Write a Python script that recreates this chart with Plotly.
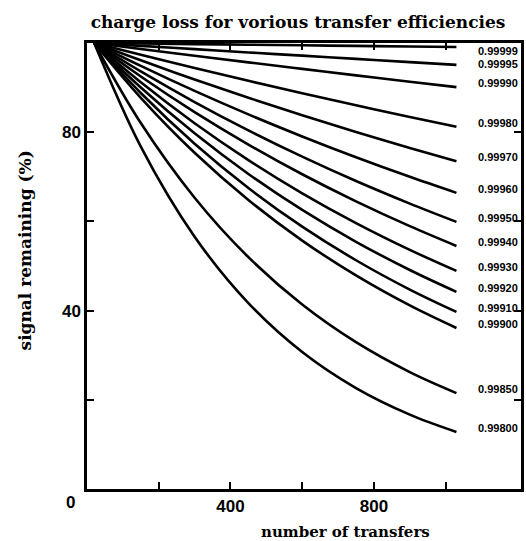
import plotly.graph_objects as go

# number of transfers at which values were read
transfers = [20, 150, 300, 450, 600, 750, 900, 1030]

efficiency_labels = ["0.99999", "0.99995", "0.99990", "0.99980", "0.99970", "0.99960",
                     "0.99950", "0.99940", "0.99930", "0.99920", "0.99910", "0.99900",
                     "0.99850", "0.99800"]

# signal remaining (%) for each curve
s_99999 = [100, 99.88, 99.75, 99.62, 99.48, 99.35, 99.22, 99.1]
s_99995 = [100, 99.36, 98.62, 97.88, 97.16, 96.43, 95.72, 95.1]
s_99990 = [100, 98.67, 97.15, 95.66, 94.19, 92.74, 91.32, 90.1]
s_99980 = [100, 97.36, 94.39, 91.52, 88.73, 86.03, 83.41, 81.2]
s_99970 = [100, 96.12, 91.82, 87.72, 83.79, 80.05, 76.47, 73.5]
s_99960 = [100, 94.87, 89.27, 84.00, 79.05, 74.38, 69.99, 66.4]
s_99950 = [100, 93.62, 86.76, 80.40, 74.51, 69.05, 63.99, 59.9]
s_99940 = [100, 92.49, 84.51, 77.23, 70.57, 64.49, 58.93, 54.5]
s_99930 = [100, 91.20, 82.01, 73.75, 66.31, 59.63, 53.62, 48.9]
s_99920 = [100, 90.03, 79.75, 70.64, 62.57, 55.43, 49.10, 44.2]
s_99910 = [100, 88.79, 77.41, 67.49, 58.83, 51.29, 44.71, 39.7]
s_99900 = [100, 87.71, 75.39, 64.81, 55.70, 47.89, 41.16, 36.1]
s_99850 = [100, 82.05, 65.31, 51.98, 41.36, 32.92, 26.20, 21.5]
s_99800 = [100, 76.76, 56.56, 41.68, 30.71, 22.63, 16.68, 12.8]

series = [s_99999, s_99995, s_99990, s_99980, s_99970, s_99960, s_99950,
          s_99940, s_99930, s_99920, s_99910, s_99900, s_99850, s_99800]

x_tickvals = [200, 400, 600, 800, 1000]
x_ticktext = ["", "400", "", "800", ""]
y_tickvals = [20, 40, 60, 80]
y_ticktext = ["", "40", "", "80"]

NUM_FONT = dict(family="Liberation Sans", size=17, color="black", weight="bold")
LABEL_FONT = dict(family="Liberation Sans", size=11, color="black", weight="bold")

fig = go.Figure()
for i, (lab, vals) in enumerate(zip(efficiency_labels, series)):
    fig.add_trace(go.Scatter(x=transfers, y=vals, mode="lines",
                             line=dict(color="black", width=2.6, shape="spline"),
                             name=lab, showlegend=False, hoverinfo="skip"))
    # label sits just above the end of its curve (kept clear of the top frame)
    ly = vals[-1] + 0.9
    if i == 0:
        ly = 98.1
    elif i == 1:
        ly = vals[-1] + 0.1
    fig.add_annotation(x=1207, y=ly, text=lab, showarrow=False,
                       xanchor="right", yanchor="middle", font=LABEL_FONT)

axis_common = dict(showline=True, linecolor="black", linewidth=2.5, mirror="ticks",
                   ticks="inside", ticklen=7, tickwidth=2, tickcolor="black",
                   showgrid=False, zeroline=False, tickfont=NUM_FONT)

fig.update_xaxes(range=[0, 1210], tickvals=x_tickvals, ticktext=x_ticktext, **axis_common)
fig.update_yaxes(range=[0, 100], tickvals=y_tickvals, ticktext=y_ticktext, **axis_common)

fig.add_annotation(xref="paper", yref="paper", x=-0.039, y=-0.031, text="0",
                   showarrow=False, xanchor="center", yanchor="middle", font=NUM_FONT)
fig.add_annotation(xref="paper", yref="paper", x=(347 - 87) / 437, y=-(532 - 489) / 446,
                   text="number of transfers", showarrow=False,
                   xanchor="center", yanchor="middle",
                   font=dict(family="DejaVu Serif", size=15, color="black", weight="bold"))
fig.add_annotation(xref="paper", yref="paper", x=(25 - 87) / 437, y=(489 - 250) / 446,
                   text="signal remaining (%)", textangle=-90, showarrow=False,
                   xanchor="center", yanchor="middle",
                   font=dict(family="DejaVu Serif", size=17, color="black", weight="bold"))

fig.update_layout(
    width=526, height=541,
    margin=dict(l=87, r=2, t=43, b=52),
    paper_bgcolor="white", plot_bgcolor="white",
    title=dict(text="charge loss for vorious transfer efficiencies",
               x=298 / 526, y=1 - 22 / 541, xanchor="center", yanchor="middle",
               font=dict(family="DejaVu Serif", size=17, color="black", weight="bold")),
)

fig.write_html("out.html", config={"displayModeBar": False},
               post_script="document.body.style.margin='0';"
                           "document.body.style.overflow='hidden';")
